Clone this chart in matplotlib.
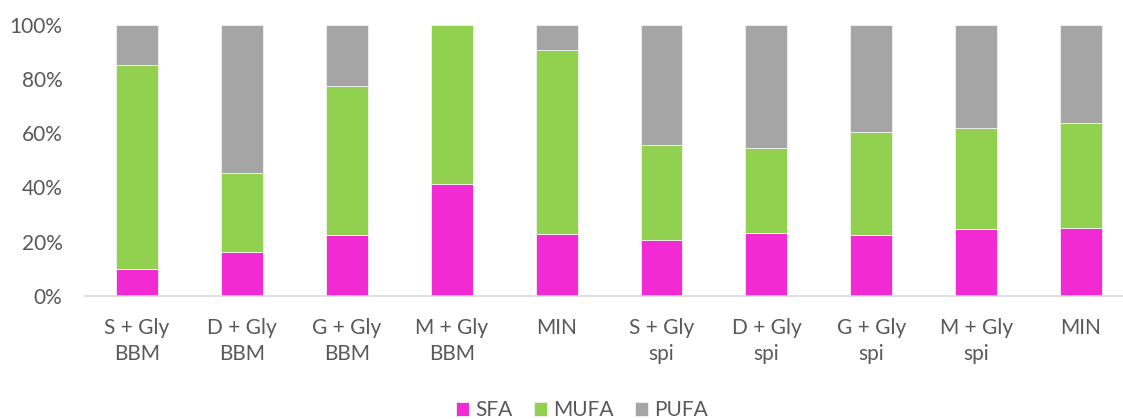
import matplotlib.pyplot as plt
import numpy as np

# categories (two-line labels)
labels = ['S + Gly\nBBM', 'D + Gly\nBBM', 'G + Gly\nBBM', 'M + Gly\nBBM', 'MIN',
          'S + Gly\nspi', 'D + Gly\nspi', 'G + Gly\nspi', 'M + Gly\nspi', 'MIN']

# shares in percent
sfa = [9.7, 16.2, 22.5, 41.3, 22.9, 20.6, 23.2, 22.4, 24.5, 24.9]
mufa = [75.3, 29.0, 54.8, 58.7, 67.6, 34.9, 31.2, 37.9, 37.4, 38.7]
pufa = [15.0, 54.8, 22.7, 0.0, 9.5, 44.5, 45.6, 39.7, 38.1, 36.4]

plt.rcParams['font.family'] = ['Lato', 'DejaVu Sans']

fig = plt.figure(figsize=(11.23, 4.19), dpi=100)
ax = fig.add_axes([84.6 / 1123, 123.3 / 419, (1133.5 - 84.6) / 1123, 271 / 419])

x = np.arange(len(labels))
w = 0.40
txt = '#595959'
ec = '#F2F2F2'
fs = 15

ax.bar(x, sfa, w, color='#F22AD3', edgecolor=ec, linewidth=0.6, label='SFA')
ax.bar(x, mufa, w, bottom=sfa, color='#92D050', edgecolor=ec, linewidth=0.6, label='MUFA')
bot = [a + b for a, b in zip(sfa, mufa)]
ax.bar(x, pufa, w, bottom=bot, color='#A5A5A5', edgecolor=ec, linewidth=0.6, label='PUFA')

ax.set_xlim(-0.5, 9.5)
ax.set_ylim(0, 100)
ax.set_yticks(range(0, 101, 20))
ax.set_yticklabels([f'{v}%' for v in range(0, 101, 20)])
ax.set_xticks(x)
ax.set_xticklabels(labels, linespacing=1.35)
ax.tick_params(axis='y', length=0, pad=16, labelsize=fs, labelcolor=txt)
ax.tick_params(axis='x', length=0, pad=16, labelsize=fs, labelcolor=txt)

for s in ['top', 'right', 'left']:
    ax.spines[s].set_visible(False)
ax.spines['bottom'].set_color('#D9D9D9')
ax.spines['bottom'].set_linewidth(1.2)

leg = fig.legend(loc='center', bbox_to_anchor=(582 / 1123, 1 - 410 / 419), ncol=3,
                 frameon=False, fontsize=fs, handlelength=0.65, handleheight=0.65,
                 handletextpad=0.3, columnspacing=1.0, borderaxespad=0)
for t in leg.get_texts():
    t.set_color(txt)

fig.savefig('out.png', dpi=100)
